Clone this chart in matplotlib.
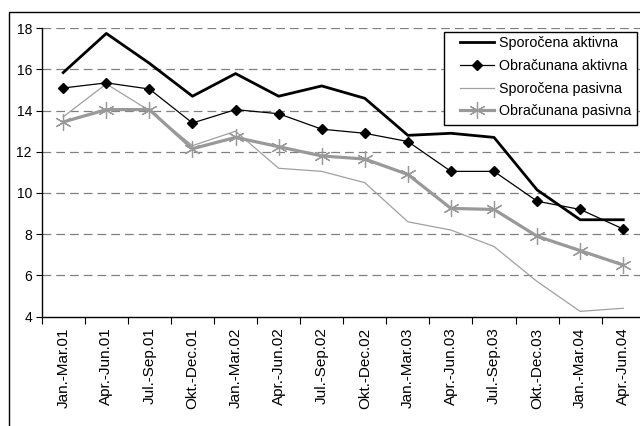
import matplotlib
matplotlib.use("Agg")
import matplotlib.pyplot as plt
from matplotlib.patches import Rectangle

plt.rcParams['font.family'] = ['Liberation Sans', 'DejaVu Sans']

categories = ["Jan.-Mar.01", "Apr.-Jun.01", "Jul.-Sep.01", "Okt.-Dec.01",
              "Jan.-Mar.02", "Apr.-Jun.02", "Jul.-Sep.02", "Okt.-Dec.02",
              "Jan.-Mar.03", "Apr.-Jun.03", "Jul.-Sep.03", "Okt.-Dec.03",
              "Jan.-Mar.04", "Apr.-Jun.04"]
sporocena_aktivna = [15.85, 17.75, 16.3, 14.7, 15.8, 14.7, 15.2, 14.6,
                     12.8, 12.9, 12.7, 10.15, 8.7, 8.7]
obracunana_aktivna = [15.1, 15.35, 15.05, 13.4, 14.05, 13.85, 13.1, 12.9,
                      12.5, 11.05, 11.05, 9.6, 9.2, 8.25]
sporocena_pasivna = [13.7, 15.3, 14.0, 12.3, 13.0, 11.2, 11.05, 10.5,
                     8.6, 8.2, 7.4, 5.7, 4.25, 4.4]
obracunana_pasivna = [13.45, 14.05, 14.05, 12.15, 12.7, 12.25, 11.8, 11.65,
                      10.9, 9.25, 9.2, 7.9, 7.2, 6.5]
labels = ["Sporočena aktivna", "Obračunana aktivna", "Sporočena pasivna", "Obračunana pasivna"]
yticks = [4, 6, 8, 10, 12, 14, 16, 18]

W, H = 640, 426
fig = plt.figure(figsize=(W / 100, H / 100), dpi=100)
fig.patch.set_facecolor('white')

# outer chart frame
fig.patches.append(Rectangle((9 / W, -0.1), 1.2, (H - 12) / H + 0.1,
                             transform=fig.transFigure, fill=False,
                             edgecolor='black', linewidth=1.0))

left, right, top, bottom = 41.7, 644.8, 28.3, 316.5
ax = fig.add_axes([left / W, (H - bottom) / H, (right - left) / W, (bottom - top) / H])

x = list(range(len(categories)))
star = (6, 2, 0)
ax.plot(x, sporocena_aktivna, color='black', lw=2.0, label=labels[0], zorder=5)
ax.plot(x, obracunana_aktivna, color='black', lw=0.9, marker='D', markersize=5.5,
        label=labels[1], zorder=6)
ax.plot(x, sporocena_pasivna, color='#a0a0a0', lw=0.9, label=labels[2], zorder=3)
ax.plot(x, obracunana_pasivna, color='#999999', lw=2.3, marker=star, markersize=12,
        markeredgewidth=0.9, markeredgecolor='#999999', label=labels[3], zorder=4)

ax.set_xlim(-0.5, len(categories) - 0.5)
ax.set_ylim(4, 18)
ax.set_yticks(yticks)
ax.set_yticklabels([str(v) for v in yticks], fontsize=10)
ax.set_xticks(x)
ax.set_xticklabels(categories, rotation=90, fontsize=11)
ax.set_xticks([i - 0.5 for i in range(len(categories) + 1)], minor=True)
ax.tick_params(axis='x', which='major', length=0, pad=8)
ax.tick_params(axis='x', which='minor', length=5, width=0.8, direction='out')
ax.tick_params(axis='y', length=4, width=0.8, direction='out', pad=3)

for v in yticks[1:]:
    ax.axhline(v, color='#808080', lw=0.9, dashes=(7, 4), zorder=1)

for s in ['top', 'right']:
    ax.spines[s].set_visible(False)
for s in ['left', 'bottom']:
    ax.spines[s].set_linewidth(1.0)
    ax.spines[s].set_color('black')

# legend box (drawn separately to mimic the asymmetric padding)
fig.patches.append(Rectangle((444 / W, (H - 125) / H), (637 - 444) / W, (125 - 32) / H,
                             transform=fig.transFigure, facecolor='white',
                             edgecolor='black', linewidth=1.0, zorder=9))
leg = fig.legend(loc='upper left', bbox_to_anchor=(460 / W, (H - 36.5) / H),
                 fontsize=10.3, frameon=False,
                 handlelength=2.4, handletextpad=0.3, labelspacing=0.6,
                 borderpad=0, borderaxespad=0)
leg.set_zorder(10)

fig.savefig('out.png', dpi=100)
